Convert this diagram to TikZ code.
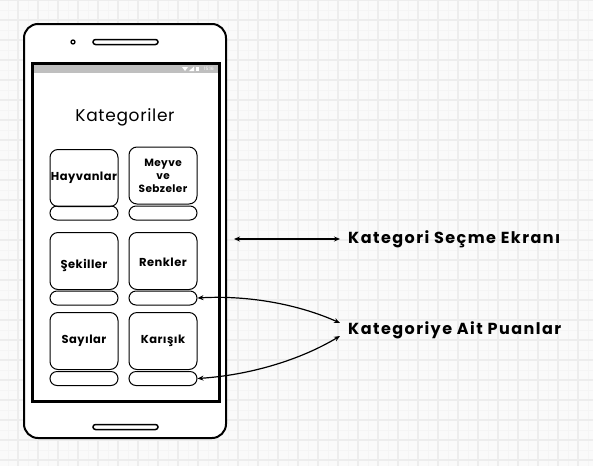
\documentclass[tikz,border=0pt]{standalone}
\usepackage{fontspec}
\setmainfont{Poppins}
\newfontfamily\lblfont[LetterSpace=9]{Poppins}
\newfontfamily\btnfont[LetterSpace=4]{Poppins}
\usetikzlibrary{arrows.meta}
\begin{document}
\begin{tikzpicture}[x=1pt,y=-1pt,
  gridminor/.style={draw=black!4, line width=0.8pt},
  gridmajor/.style={draw=black!7, line width=1.2pt},
  btn/.style={draw, line width=1pt, rounded corners=8pt, minimum width=68pt, minimum height=57pt, inner sep=0pt, font=\btnfont\bfseries\fontsize{11.5}{13}\selectfont, align=center},
  score/.style={draw, line width=1pt, rounded corners=7pt, minimum width=68pt, minimum height=14pt, inner sep=0pt},
  lbl/.style={anchor=west, inner sep=0pt, font=\lblfont\bfseries\fontsize{16}{18}\selectfont},
  arr/.style={line width=1.2pt, {Stealth[length=6pt,width=5pt]}-{Stealth[length=6pt,width=5pt]}}
]
\useasboundingbox (0,0) rectangle (593,466);
\fill[black!2] (0,0) rectangle (593,466);
\foreach \x in {8,28,...,588} \draw[gridminor] (\x,0) -- (\x,466);
\foreach \y in {10,30,...,460} \draw[gridminor] (0,\y) -- (593,\y);
\foreach \x in {18,38,...,588} \draw[gridmajor] (\x,0) -- (\x,466);
\foreach \y in {0,20,...,460} \draw[gridmajor] (0,\y) -- (593,\y);
% phone
\draw[line width=2pt, fill=white, rounded corners=14pt] (24,24) rectangle (226,438);
\draw[line width=3pt, fill=white] (32,63) rectangle (219,401);
\fill[black!25] (33.5,64.5) rectangle (217.5,73);
\node[text=white, font=\fontsize{4.5}{5}\selectfont, inner sep=0pt] (clock) at (209,69) {15:16};
\fill[white] (182,67) -- (188,67) -- (185,71) -- cycle;
\fill[white] (189,71) -- (194,71) -- (194,66.5) -- cycle;
\fill[white] (196,66.5) rectangle (198.5,71);
\draw[line width=1.3pt] (73,42) circle (2);
\draw[line width=1.5pt, rounded corners=2.5pt] (93,39.5) rectangle (158,44.5);
\draw[line width=1.5pt, rounded corners=2.5pt] (93,424.5) rectangle (158,429.5);
% title
\node[font=\btnfont\fontsize{17}{19}\selectfont] (title) at (125,117) {Kategoriler};
% buttons
\node[btn] (b11) at (84,178) {Hayvanlar};
\node[btn, font=\btnfont\bfseries\fontsize{10.5}{13}\selectfont] (b12) at (163,175.5) {Meyve\\ve\\Sebzeler};
\node[btn] (b21) at (84,261) {};
\node[btn] (b22) at (163,261) {};
\node[btn] (b31) at (84,341) {Sayılar};
\node[btn] (b32) at (163,341) {Karışık};
\node[font=\btnfont\bfseries\fontsize{11.5}{13}\selectfont] (t21) at (84,265) {Şekiller};
\node[font=\btnfont\bfseries\fontsize{11.5}{13}\selectfont] (t22) at (163,262) {Renkler};
\node[score] (s11) at (84,213) {};
\node[score] (s12) at (163,213) {};
\node[score] (s21) at (84,298) {};
\node[score] (s22) at (163,298) {};
\node[score] (s31) at (84,378.5) {};
\node[score] (s32) at (163,378.5) {};
% labels
\node[lbl] (kse) at (348,239) {Kategori Seçme Ekranı};
\node[lbl] (kap) at (348,330) {Kategoriye Ait Puanlar};
\coordinate (c1) at (234,239);
\coordinate (c2) at (340,239);
\coordinate (t1) at (340,323);
\coordinate (t2) at (340,336);
\draw[arr] (c1) -- (c2);
\draw[arr] (s22.east) .. controls (250,295) and (300,305) .. (t1);
\draw[arr] (s32.east) .. controls (250,375) and (300,360) .. (t2);
\end{tikzpicture}
\end{document}
